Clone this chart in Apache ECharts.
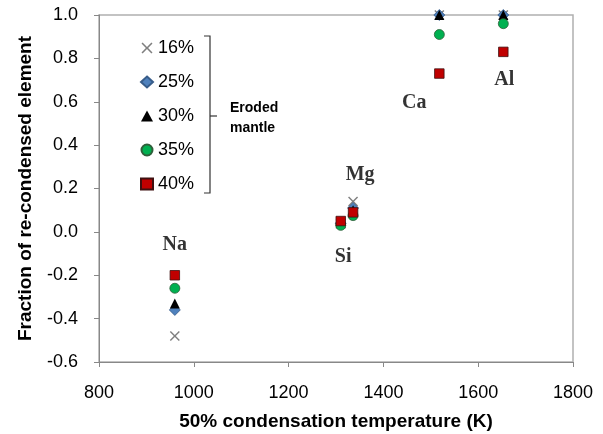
<!DOCTYPE html>
<html><head><meta charset="utf-8">
<script src="https://cdn.jsdelivr.net/npm/echarts@6/dist/echarts.min.js"></script>
<style>html,body{margin:0;padding:0;background:#fff}#c{width:603px;height:434px}</style>
</head><body><div id="c"></div>
<script>
// Elements and their 50% condensation temperatures (K)
var elements = ['Na', 'Si', 'Mg', 'Ca', 'Al'];
var temps = [960, 1310, 1336, 1518, 1653];
// Fraction of re-condensed element for each eroded-mantle fraction
var seriesNames = ['16%', '25%', '30%', '35%', '40%'];
var v16 = [-0.48, 0.04, 0.14, 1.0, 1.0];
var v25 = [-0.36, 0.04, 0.11, 1.0, 1.0];
var v30 = [-0.33, 0.04, 0.10, 1.0, 1.0];
var v35 = [-0.26, 0.03, 0.075, 0.91, 0.96];
var v40 = [-0.20, 0.05, 0.09, 0.73, 0.83];
// Element label anchor points (data coordinates)
var labelT = [960, 1315, 1351, 1465, 1655];
var labelV = [-0.06, -0.116, 0.262, 0.594, 0.70];
var xTicks = {min: 800, max: 1800, interval: 200};
var yTicks = {min: -0.6, max: 1.0, interval: 0.2};

var allVals = [v16, v25, v30, v35, v40];
var crossPath = 'path://M1,0 L5,4 L9,0 L10,1 L6,5 L10,9 L9,10 L5,6 L1,10 L0,9 L4,5 L0,1 Z';
var styles = [
  {symbol: crossPath, size: 10, color: '#7f7f7f', border: '#7f7f7f', bw: 0},
  {symbol: 'diamond', size: 11, color: '#4f81bd', border: '#385d8a', bw: 0.8},
  {symbol: 'triangle', size: 10, color: '#000000', border: '#000000', bw: 0},
  {symbol: 'circle', size: 10, color: '#00b050', border: '#2f5f3a', bw: 0.8},
  {symbol: 'rect', size: 9.5, color: '#c00000', border: '#3f1010', bw: 0.8}
];

function pts(vals) {
  return temps.map(function (t, i) { return [t, vals[i]]; });
}

var series = seriesNames.map(function (n, k) {
  var s = styles[k];
  return {
    name: n, type: 'scatter', clip: false,
    symbol: s.symbol, symbolSize: s.size,
    itemStyle: {color: s.color, borderColor: s.border, borderWidth: s.bw, opacity: 1},
    data: pts(allVals[k]), z: 3 + k
  };
});
series.push({
  name: 'labels', type: 'scatter', symbolSize: 0, clip: false, silent: true,
  data: labelT.map(function (t, i) { return {value: [t, labelV[i]], name: elements[i]}; }),
  label: {show: true, position: 'inside', formatter: '{b}',
    fontFamily: 'Liberation Serif', fontWeight: 'bold', fontSize: 20, color: '#000'}
});

var chart = echarts.init(document.getElementById('c'));
chart.setOption({
  animation: false,
  backgroundColor: '#fff',
  grid: {left: 99, top: 15, right: 30, bottom: 72, show: true, borderColor: '#b0b0b0', borderWidth: 1.5,
    containLabel: false, outerBoundsMode: 'none'},
  legend: {
    data: seriesNames, orient: 'vertical', left: 135, top: 33,
    itemWidth: 12, itemHeight: 11, itemGap: 14,
    textStyle: {fontFamily: 'Liberation Sans', fontSize: 18, color: '#000', lineHeight: 20}
  },
  xAxis: {
    type: 'value', min: xTicks.min, max: xTicks.max, interval: xTicks.interval,
    name: '50% condensation temperature (K)', nameLocation: 'middle', nameGap: 50,
    nameTextStyle: {fontFamily: 'Liberation Sans', fontWeight: 'bold', fontSize: 19, color: '#000'},
    axisLine: {show: true, onZero: false, lineStyle: {color: '#888', width: 1}},
    axisTick: {show: true, inside: false, length: 5, lineStyle: {color: '#888'}},
    axisLabel: {margin: 22, fontFamily: 'Liberation Sans', fontSize: 18, color: '#000',
      formatter: function (v) { return String(Math.round(v)); }},
    splitLine: {show: false}
  },
  yAxis: {
    type: 'value', min: yTicks.min, max: yTicks.max, interval: yTicks.interval,
    name: 'Fraction of re-condensed element', nameLocation: 'middle', nameGap: 64,
    nameTextStyle: {fontFamily: 'Liberation Sans', fontWeight: 'bold', fontSize: 19, color: '#000'},
    axisLine: {show: true, onZero: false, lineStyle: {color: '#888', width: 1}},
    axisTick: {show: true, inside: false, length: 5, lineStyle: {color: '#888'}},
    axisLabel: {margin: 21, fontFamily: 'Liberation Sans', fontSize: 18, color: '#000',
      formatter: function (v) { return (Math.round(v * 10) / 10).toFixed(1); }},
    splitLine: {show: false}
  },
  graphic: [
    {type: 'polyline', shape: {points: [[204, 36], [210, 36], [210, 193], [204, 193]]},
      style: {stroke: '#333', lineWidth: 1.2, fill: null}},
    {type: 'line', shape: {x1: 210, y1: 116, x2: 217, y2: 116}, style: {stroke: '#333', lineWidth: 1.2}},
    {type: 'text', left: 230, top: 98, style: {text: 'Eroded\nmantle', fontFamily: 'Liberation Sans',
      fontWeight: 'bold', fontSize: 14, lineHeight: 20, fill: '#000'}}
  ],
  series: series
});
</script></body></html>
